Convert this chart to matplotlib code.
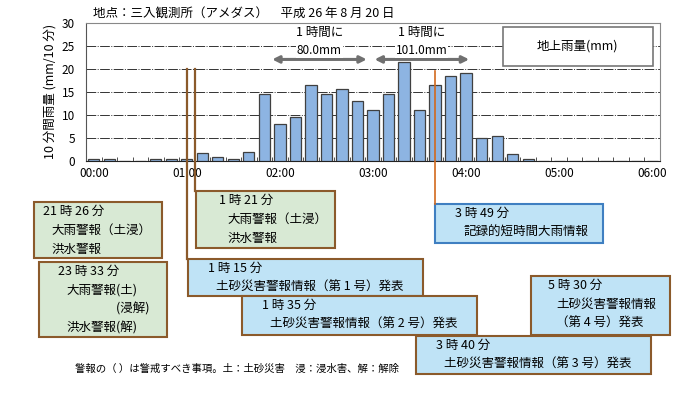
import matplotlib
matplotlib.use('Agg')
import matplotlib.pyplot as plt
from matplotlib.patches import Rectangle
import numpy as np

plt.rcParams['font.family'] = ['Noto Sans CJK JP', 'DejaVu Sans']

# 10分間雨量 (00:00 から 10 分ごと)
rain = [0.5, 0.5, 0, 0, 0.5, 0.5, 0.5, 1.8, 0.9, 0.5, 2.0, 14.5, 8.0, 9.5, 16.5,
        14.5, 15.5, 13.0, 11.0, 14.5, 21.5, 11.0, 16.5, 18.5, 19.0, 5.0, 5.5,
        1.5, 0.5, 0, 0, 0, 0, 0, 0, 0, 0]
tick_labels = ['00:00', '01:00', '02:00', '03:00', '04:00', '05:00', '06:00']
yticks = [0, 5, 10, 15, 20, 25, 30]

# 発表された情報 (時刻, 本文行, 種類)
boxes = [
    ('21 時 26 分', ['大雨警報（土浸）', '洪水警報'], 'g'),
    ('23 時 33 分', ['大雨警報(土)', '　　　　(浸解)', '洪水警報(解)'], 'g'),
    ('1 時 21 分', ['大雨警報（土浸）', '洪水警報'], 'g'),
    ('1 時 15 分', ['土砂災害警報情報（第 1 号）発表'], 'b'),
    ('1 時 35 分', ['土砂災害警報情報（第 2 号）発表'], 'b'),
    ('3 時 49 分', ['記録的短時間大雨情報'], 'b2'),
    ('5 時 30 分', ['土砂災害警報情報', '（第 4 号）発表'], 'b'),
    ('3 時 40 分', ['土砂災害警報情報（第 3 号）発表'], 'b'),
]
# 枠の位置 (ピクセル: 左, 上, 右, 下) と文字の字下げ
box_pos = [(34, 202, 162, 258), (39, 262, 167, 337), (196, 191, 335, 248),
           (188, 259, 423, 296), (242, 296, 477, 335), (435, 204, 603, 243),
           (531, 276, 670, 335), (416, 336, 651, 374)]
indent = [9, 19, 23, 20, 20, 20, 17, 20]

fig = plt.figure(figsize=(7, 3.95), dpi=100)
ax = fig.add_axes([86/700, 1-161/395, 574/700, 138.5/395])

x = np.arange(len(rain))
ax.bar(x, rain, width=0.72, color='#8db4e2', edgecolor='#404040', linewidth=0.9, zorder=3)

ax.set_xlim(-0.5, 36.5)
ax.set_ylim(0, 30)
ax.set_xticks(np.arange(0, 37, 6))
ax.set_xticklabels(tick_labels, fontsize=8.5)
ax.set_xticks(np.arange(0.5, 36, 1), minor=True)
ax.tick_params(axis='x', which='major', length=0, pad=4)
ax.tick_params(axis='x', which='minor', direction='in', length=3, color='#333333')
ax.set_yticks(yticks)
ax.set_yticklabels([str(v) for v in yticks], fontsize=8.5)
ax.tick_params(axis='y', length=0, pad=8)
for v in yticks[1:-1]:
    ax.axhline(v, color='#333333', lw=0.7, ls=(0, (10, 1.5, 1, 1.5)), zorder=1)
ax.spines['top'].set_color('#888888')
ax.spines['right'].set_color('#888888')
ax.spines['left'].set_color('#555555')
ax.spines['bottom'].set_color('#222222')
ax.set_ylabel('10 分間雨量 (mm/10 分)', fontsize=9, labelpad=4)

# 凡例の枠
ax.add_patch(Rectangle((26.4, 20.6), 9.65, 8.5, facecolor='white', edgecolor='#777777',
                       lw=1.2, zorder=4))
ax.text(31.2, 24.85, '地上雨量(mm)', ha='center', va='center', fontsize=9, zorder=5)

# 1時間雨量の矢印
for x0, x1, label in [(11.5, 17.6, '80.0mm'), (18.1, 24.2, '101.0mm')]:
    ax.annotate('', xy=(x0, 22.0), xytext=(x1, 22.0),
                arrowprops=dict(arrowstyle='<|-|>', color='#707070', lw=2.2,
                                mutation_scale=10, shrinkA=0, shrinkB=0), zorder=5)
    ax.text((x0 + x1) / 2, 27.8, '1 時間に', ha='center', va='center', fontsize=9,
            bbox=dict(facecolor='white', edgecolor='none', pad=0.5), zorder=5)
    ax.text((x0 + x1) / 2, 23.9, label, ha='center', va='center', fontsize=8.5,
            bbox=dict(facecolor='white', edgecolor='none', pad=0.5), zorder=5)

fig.text(93/700, 1-14/395, '地点：三入観測所（アメダス）　平成 26 年 8 月 20 日',
         fontsize=9, va='center', ha='left')

# 枠を描くための重ね合わせ軸 (ピクセル座標)
ov = fig.add_axes([0, 0, 1, 1])
ov.set_xlim(0, 700)
ov.set_ylim(395, 0)
ov.axis('off')
ov.patch.set_alpha(0)

def px_x(xd):
    return ax.transData.transform((xd, 0))[0] * 700 / fig.bbox.width

top20 = 395 - ax.transData.transform((0, 20))[1] * 395 / fig.bbox.height

# 発表時刻を示す縦線
ov.plot([px_x(6.0)] * 2, [top20, 259], color='#8b5a2b', lw=1.6)
ov.plot([px_x(6.5)] * 2, [top20, 191], color='#8b5a2b', lw=1.6)
ov.plot([px_x(22.0)] * 2, [top20 + 2, 204], color='#d2691e', lw=1.2)

styles = {'g': ('#d8e9d4', '#8b5a2b'), 'b': ('#bfe3f6', '#8b5a2b'),
          'b2': ('#bfe3f6', '#3f7fc1')}
for (head, lines, kind), (l, t, r, b), ind in zip(boxes, box_pos, indent):
    fc, ec = styles[kind]
    ov.add_patch(Rectangle((l, t), r - l, b - t, facecolor=fc, edgecolor=ec, lw=1.5))
    ov.text(l + ind, t + 9, head, fontsize=9, va='center', ha='left')
    for i, line in enumerate(lines):
        ov.text(l + ind + 8, t + 28 + 19 * i, line, fontsize=9, va='center', ha='left')

ov.text(75, 369, '警報の（ ）は警戒すべき事項。土：土砂災害　浸：浸水害、解：解除',
        fontsize=7.5, va='center', ha='left')

fig.savefig('out.png', dpi=100)
